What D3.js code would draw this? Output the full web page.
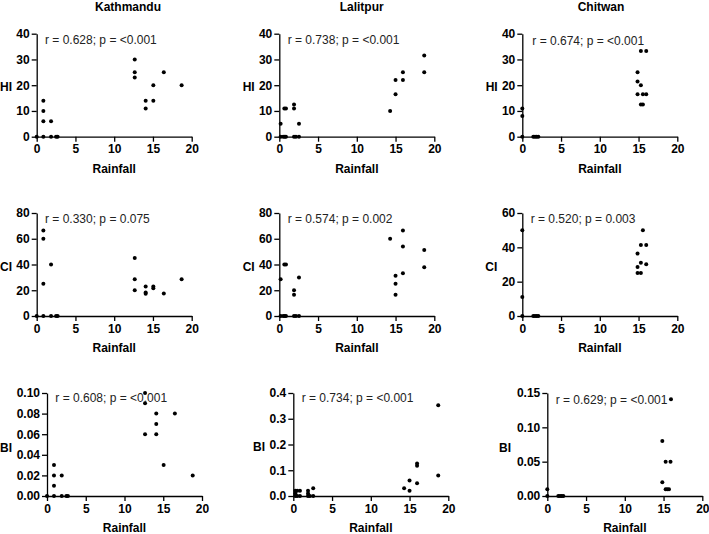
<!DOCTYPE html>
<html><head><meta charset="utf-8">
<script src="https://cdn.jsdelivr.net/npm/d3@7"></script>
<style>
body{margin:0;background:#fff;}
svg{display:block;font-family:"Liberation Sans",Arial,sans-serif;}
.tick text{font-size:12px;font-weight:bold;fill:#000;}
</style></head><body>
<svg id="c" width="709" height="534"></svg>
<script>
// ---- data ----
const districts = ["Kathmandu", "Lalitpur", "Chitwan"];
const indices = ["HI", "CI", "BI"];
const xTicks = [0, 5, 10, 15, 20];

const kathmanduHI = [[0,0],[0.86,0],[0.86,14],[0.86,10],[0.86,6],[1.85,6],[1.85,0],[2.5,0],[2.7,0],
  [12.65,30],[12.65,25],[12.65,23],[14.06,14],[14.06,11],[15.05,20],[15.05,14],[16.4,25],[18.7,20]];
const lalitpurHI = [[0.17,5],[0.17,0],[0.5,0],[0.7,0],[0.86,0],[0.65,11],[0.86,11],[1.9,12.5],[1.9,11],[1.9,0],[2.15,0],[2.54,5],[2.54,0],
  [14.3,10],[15,22],[15,16.5],[15.95,25],[15.95,22],[18.7,31.5],[18.7,25]];
const chitwanHI = [[0,0],[0,8],[0,11],[1.42,0],[1.64,0],[1.85,0],[2.07,0],
  [14.87,25],[14.87,21.4],[14.87,16.5],[15.3,20],[15.3,12.5],[15.56,12.5],[15.3,33.3],[15.99,33.3],[15.56,16.5],[15.99,16.5]];

const kathmanduCI = [[0,0],[0.86,0],[0.86,66.5],[0.86,60],[0.86,25],[1.85,40],[1.85,0],[2.5,0],[2.7,0],
  [12.65,45],[12.65,28.5],[12.65,20],[14.06,23],[14.06,18.2],[14.06,17.2],[15.05,23],[15.05,21.5],[16.4,17.5],[18.7,28.5]];
const lalitpurCI = [[0.17,28.5],[0.17,0],[0.5,0],[0.7,0],[0.86,0],[0.65,40],[0.86,40],[1.9,20],[1.9,16.5],[1.9,0],[2.15,0],[2.54,30],[2.54,0],
  [14.3,60],[15,31.3],[15,25],[15,16.5],[15.95,66.5],[15.95,54],[15.95,33.2],[18.7,51.3],[18.7,37.8]];
const chitwanCI = [[0,0],[0,11],[0,50],[1.42,0],[1.64,0],[1.85,0],[2.07,0],
  [14.87,36.4],[14.87,28.6],[14.87,25],[15.3,41.4],[15.3,31],[15.3,25],[15.56,50],[15.99,41.4],[15.99,30.2]];

const kathmanduBI = [[0,0],[0.9,0],[0.9,0.03],[0.9,0.02],[0.9,0.01],[1.9,0.02],[1.9,0],[2.5,0],[2.7,0],
  [12.65,0.10],[12.65,0.09],[12.65,0.06],[14.1,0.08],[14.1,0.07],[14.1,0.06],[15.05,0.03],[16.5,0.08],[18.8,0.02]];
const lalitpurBI = [[0.26,0.02],[0.5,0.02],[0.86,0.02],[0.26,0],[0.5,0],[0.86,0],[0.26,0.01],[1.9,0.02],[1.9,0.01],[1.9,0],[2.15,0],[2.57,0.03],[2.57,0],
  [14.3,0.03],[15,0.06],[15,0.02],[15.97,0.126],[15.97,0.117],[15.97,0.05],[18.7,0.352],[18.7,0.08]];
const chitwanBI = [[0,0],[0,0.01],[1.42,0],[1.64,0],[1.85,0],[2.07,0],
  [14.84,0.08],[14.84,0.02],[15.27,0.05],[15.27,0.01],[15.48,0.01],[15.7,0.01],[15.9,0.05],[15.96,0.141]];

const hiTicks = [0, 10, 20, 30, 40];
const ciTicks = [0, 20, 40, 60, 80];
const ciTicksChitwan = [0, 20, 40, 60];
const biTicksKathmandu = [0, 0.02, 0.04, 0.06, 0.08, 0.10];
const biTicksLalitpur = [0, 0.1, 0.2, 0.3, 0.4];
const biTicksChitwan = [0, 0.05, 0.10, 0.15];

const stats = [
  ["r = 0.628; p = <0.001", "r = 0.738; p = <0.001", "r = 0.674; p = <0.001"],
  ["r = 0.330; p = 0.075", "r = 0.574; p = 0.002", "r = 0.520; p = 0.003"],
  ["r = 0.608; p = <0.001", "r = 0.734; p = <0.001", "r = 0.629; p = <0.001"]
];

// ---- layout ----
const panels = [
  {data:kathmanduHI, ticks:hiTicks, fmt:"d", x0:36.7, y0:136.7, yl:6,   yly:87,   sx:45,    sy:40},
  {data:lalitpurHI,  ticks:hiTicks, fmt:"d", x0:279.3,y0:136.7, yl:248.7,yly:87,  sx:287.7, sy:40},
  {data:chitwanHI,   ticks:hiTicks, fmt:"d", x0:522.3,y0:136.7, yl:491.7,yly:87,  sx:532.3, sy:41},
  {data:kathmanduCI, ticks:ciTicks, fmt:"d", x0:36.7, y0:316,   yl:6,   yly:266.7, sx:45,    sy:219},
  {data:lalitpurCI,  ticks:ciTicks, fmt:"d", x0:279.3,y0:316,   yl:248.7,yly:266.7,sx:287.7, sy:219},
  {data:chitwanCI,   ticks:ciTicksChitwan, fmt:"d", x0:522.3,y0:316, yl:491.3,yly:266.7, sx:530.7, sy:219},
  {data:kathmanduBI, ticks:biTicksKathmandu, fmt:".2f", x0:47,   y0:496, yl:6,   yly:447.3, sx:55.3,  sy:397.7},
  {data:lalitpurBI,  ticks:biTicksLalitpur,  fmt:".1f", x0:293.3,y0:496, yl:259, yly:447,   sx:301.7, sy:397.7},
  {data:chitwanBI,   ticks:biTicksChitwan,   fmt:".2f", x0:547.3,y0:496, yl:505, yly:447.3, sx:555.7, sy:400}
];
const W = 155, H = 103;
const titleX = [128, 361.7, 601];

const svg = d3.select("#c");

districts.forEach((d, i) => {
  svg.append("text").attr("x", titleX[i]).attr("y", 7).attr("dy", "0.35em")
    .attr("text-anchor", "middle").attr("font-size", 12).attr("font-weight", "bold").text(d);
});

panels.forEach((p, k) => {
  const row = Math.floor(k / 3), col = k % 3;
  const x = d3.scaleLinear().domain([0, 20]).range([p.x0, p.x0 + W]);
  const ymax = p.ticks[p.ticks.length - 1];
  const y = d3.scaleLinear().domain([0, ymax]).range([p.y0, p.y0 - H]);

  const gx = svg.append("g").attr("transform", `translate(0,${p.y0})`)
    .call(d3.axisBottom(x).tickValues(xTicks).tickSize(5).tickSizeOuter(0).tickPadding(3));
  const gy = svg.append("g").attr("transform", `translate(${p.x0},0)`)
    .call(d3.axisLeft(y).tickValues(p.ticks).tickFormat(d3.format(p.fmt)).tickSize(5).tickSizeOuter(0).tickPadding(2));
  [gx, gy].forEach(g => {
    g.selectAll("path,line").attr("stroke", "#000").attr("stroke-width", 1.3);
  });

  svg.append("text").attr("x", p.x0 + W / 2).attr("y", p.y0 + 32).attr("dy", "0.35em")
    .attr("text-anchor", "middle").attr("font-size", 12).attr("font-weight", "bold").text("Rainfall");
  svg.append("text").attr("x", p.yl).attr("y", p.yly).attr("dy", "0.35em")
    .attr("text-anchor", "middle").attr("font-size", 12).attr("font-weight", "bold").text(indices[row]);

  svg.append("g").selectAll("circle").data(p.data).join("circle")
    .attr("cx", d => x(d[0])).attr("cy", d => y(d[1])).attr("r", 2).attr("fill", "#000");

  svg.append("text").attr("x", p.sx).attr("y", p.sy).attr("dy", "0.35em")
    .attr("font-size", 12).attr("fill", "#222").text(stats[row][col]);
});
</script></body></html>
